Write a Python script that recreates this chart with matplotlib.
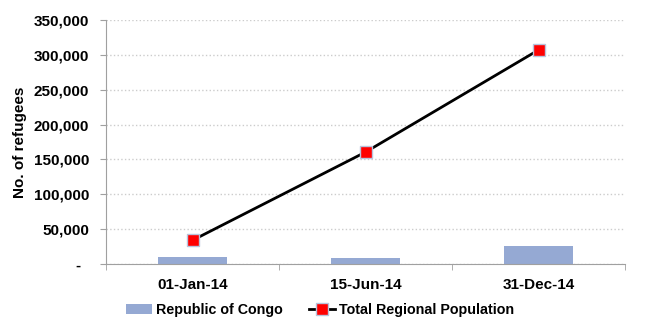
import numpy as np
import matplotlib.pyplot as plt
from matplotlib.ticker import FuncFormatter

# --- Data ---
dates = ['01-Jan-14', '15-Jun-14', '31-Dec-14']
congo = [10500, 9000, 26500]
regional_total = [34000, 160500, 307000]

plt.rcParams['font.family'] = ['Liberation Sans', 'DejaVu Sans']
plt.rcParams['font.weight'] = 'bold'

fig = plt.figure(figsize=(6.52, 3.2), dpi=100)
ax = fig.add_axes([0.1626, 0.175, 0.796, 0.7625])

x = np.arange(len(dates))
bars = ax.bar(x, congo, width=0.4, color='#95a9d3', label='Republic of Congo', zorder=2)
line, = ax.plot(x, regional_total, color='black', lw=2, marker='s', ms=8,
                mfc='#ff0000', mec='#b8c4dc', mew=1, label='Total Regional Population', zorder=3)

ax.set_xlim(-0.5, 2.5)
ax.set_ylim(0, 350000)
ax.set_yticks(range(0, 350001, 50000))
# accounting style: zero shown as a dash, set in from the right edge
ax.yaxis.set_major_formatter(FuncFormatter(lambda v, p: '-  ' if v == 0 else f'{int(v):,}'))
ax.set_xticks(x)
ax.set_xticklabels(dates)
# category boundary ticks on the x axis
ax.set_xticks([-0.5, 0.5, 1.5, 2.5], minor=True)
ax.tick_params(axis='x', which='major', length=0, pad=10, labelsize=11)
ax.tick_params(axis='x', which='minor', length=4, color='#a0a0a0')
ax.tick_params(axis='y', length=4, color='#a0a0a0', labelsize=11, pad=8)

ax.grid(axis='y', color='#cccccc', ls=':', lw=1, zorder=0)
ax.set_axisbelow(True)
for s in ['top', 'right']:
    ax.spines[s].set_visible(False)
for s in ['left', 'bottom']:
    ax.spines[s].set_color('#a0a0a0')

ax.set_ylabel('No. of refugees', fontsize=11, fontweight='bold', labelpad=5)

fig.legend([bars, line], ['Republic of Congo', 'Total Regional Population'],
           loc='center', bbox_to_anchor=(0.491, 0.03), ncol=2, frameon=False,
           fontsize=10.3, handlelength=1.8, columnspacing=1.8, handletextpad=0.3)

fig.savefig('out.png', dpi=100)
